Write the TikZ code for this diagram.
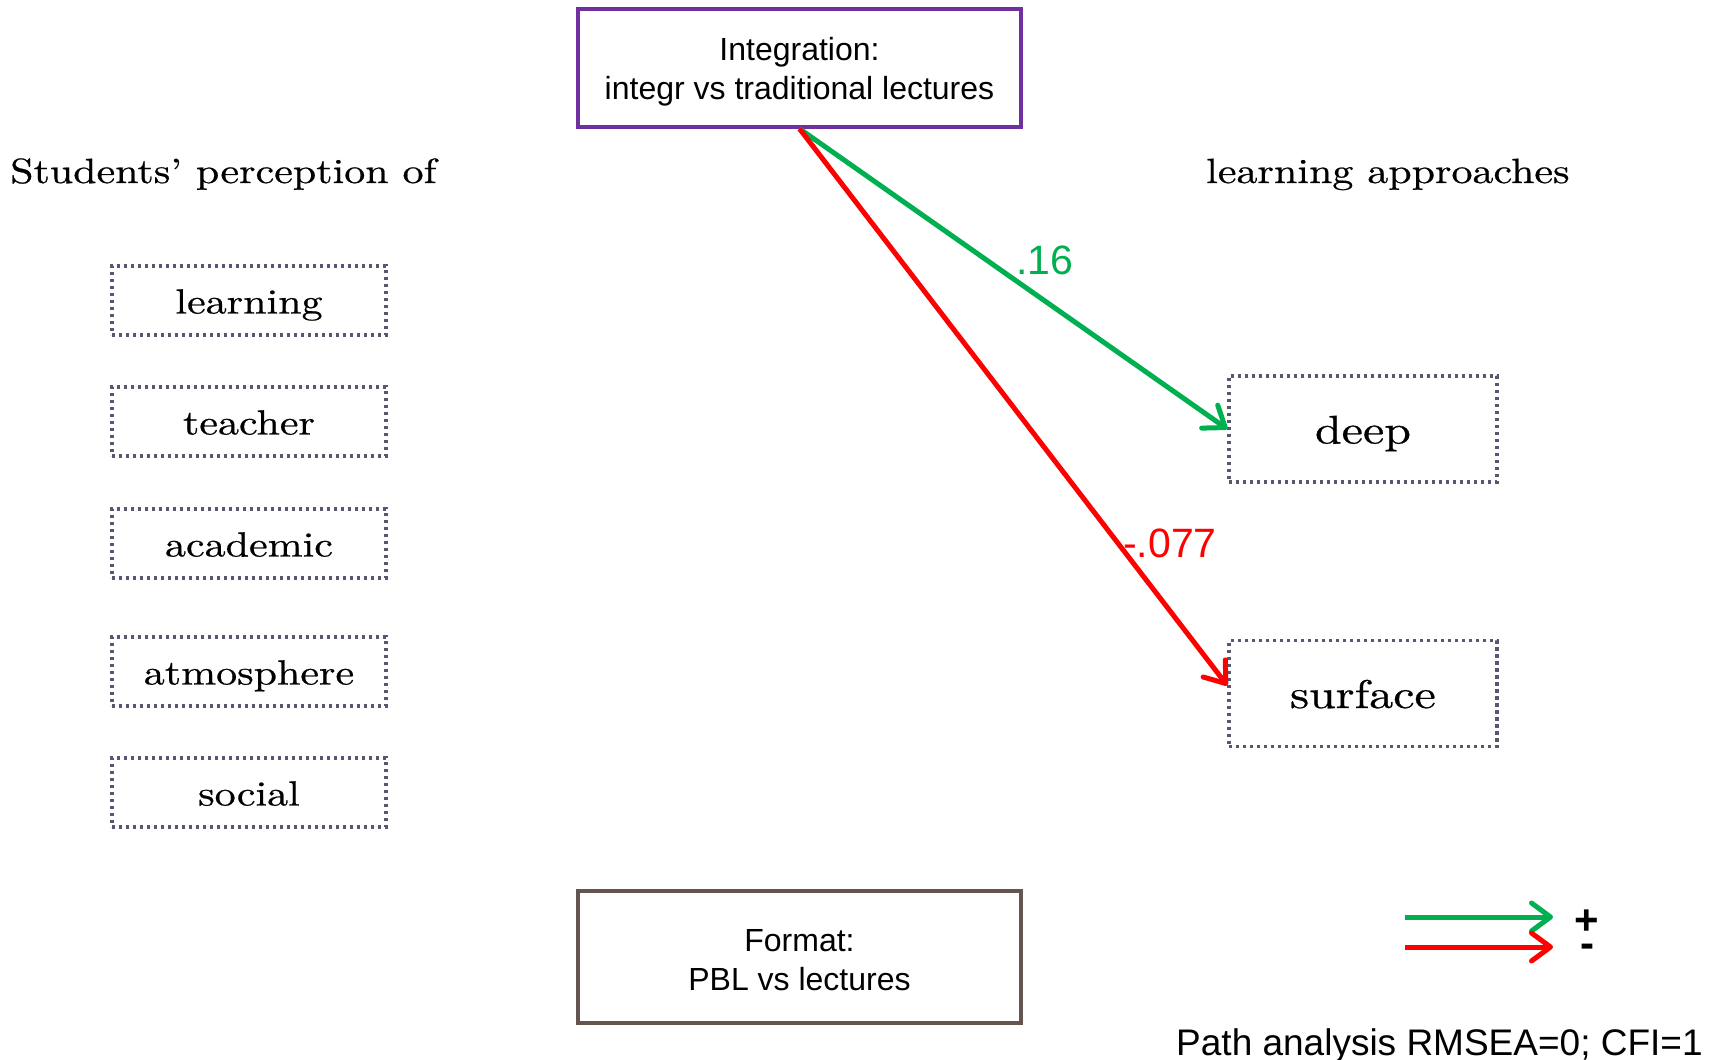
\documentclass[tikz,border=0pt]{standalone}
\usepackage{fontspec}
\setsansfont{Liberation Sans}
\newfontfamily\schola{lmroman10-regular.otf}[FakeStretch=1.2, FakeBold=0.6]
\usetikzlibrary{arrows.meta}
\definecolor{purplebox}{RGB}{112,48,160}
\definecolor{brownbox}{RGB}{100,85,80}
\definecolor{dotgray}{RGB}{85,88,110}
\definecolor{posgreen}{RGB}{0,176,80}
\definecolor{negred}{RGB}{255,0,0}
\tikzset{
  mainbox/.style={draw, line width=3.5pt, minimum width=443pt, align=center,
    font=\sffamily\fontsize{32}{39}\selectfont, inner sep=0pt},
  dotbox/.style={draw=dotgray, line width=3.4pt, dash pattern=on 3.4pt off 3.6pt,
    inner sep=0pt},
  leftbox/.style={dotbox, minimum width=274pt, minimum height=69pt,
    font=\schola\fontsize{35}{40}\selectfont, text height=33pt, text depth=7pt},
  rightbox/.style={dotbox, minimum width=268pt, minimum height=106pt,
    font=\schola\fontsize{40}{46}\selectfont, text height=37pt, text depth=8pt},
  title/.style={inner sep=0pt, font=\schola\fontsize{35}{40}\selectfont},
  coef/.style={inner sep=0pt, font=\sffamily\fontsize{41}{46}\selectfont},
  patharrow/.style={line width=5pt, -{Straight Barb[length=19pt, width=28pt, round]}},
}
\begin{document}
\begin{tikzpicture}[x=1pt, y=-1pt]
\useasboundingbox (0,0) rectangle (1719,1060);
\fill[white] (0,0) rectangle (1719,1060);

\node[mainbox, draw=purplebox, minimum height=118pt] (top) at (799.5,68)
  {\rule{0pt}{30pt}Integration:\\integr vs traditional lectures};
\node[mainbox, draw=brownbox, minimum height=132pt] (bottom) at (799.5,957)
  {\rule{0pt}{27.5pt}Format:\\PBL vs lectures};

\node[title, anchor=base west] (lefttitle) at (10,183) {Students’ perception of};
\node[title, anchor=base west] (righttitle) at (1206,183) {learning approaches};

\node[leftbox] (learning) at (249,300.5) {learning};
\node[leftbox] (teacher) at (249,421.5) {teacher};
\node[leftbox] (academic) at (249,543.5) {academic};
\node[leftbox] (atmosphere) at (249,671.5) {atmosphere};
\node[leftbox] (social) at (249,792.5) {social};

\node[rightbox] (deep) at (1363,429) {deep};
\node[rightbox] (surface) at (1363,693.5) {surface};

\draw[patharrow, posgreen] (top.south) -- (deep.west);
\draw[patharrow, negred] (top.south) -- ([yshift=8pt]surface.west);

\node[coef, text=posgreen] (c16) at (1045,260) {.16};
\node[coef, text=negred] (c077) at (1170,543) {-.077};

\coordinate (g1) at (1405,917);
\coordinate (g2) at (1553,917);
\coordinate (r1) at (1405,947);
\coordinate (r2) at (1553,947);
\draw[patharrow, posgreen] (g1) -- (g2);
\draw[patharrow, negred] (r1) -- (r2);
\node[inner sep=0pt, align=center, font=\sffamily\bfseries\fontsize{42}{23}\selectfont]
  (signs) at (1587,934) {+\\-};

\node[inner sep=0pt, anchor=base west, font=\sffamily\fontsize{37}{42}\selectfont] (fit)
  at (1176,1055) {Path analysis RMSEA=0; CFI=1};
\end{tikzpicture}
\end{document}
